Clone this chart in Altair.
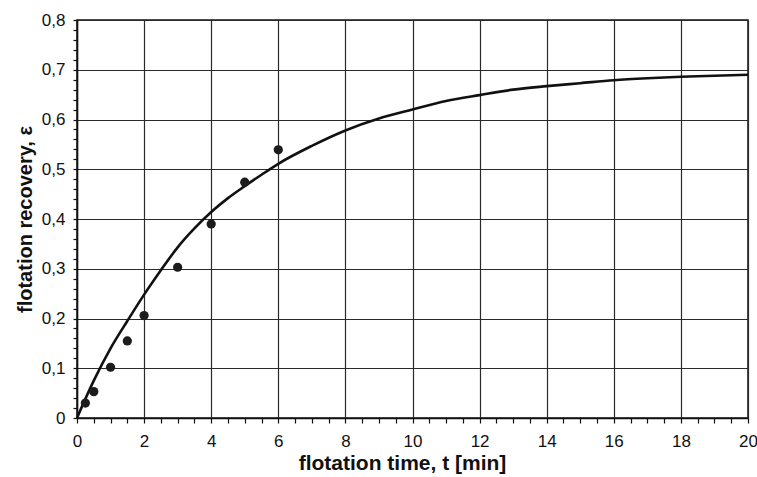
import altair as alt
import pandas as pd

# Measured flotation recovery at each sampling time
time_points = [0.25, 0.5, 1, 1.5, 2, 3, 4, 5, 6]
recovery_points = [0.030, 0.053, 0.102, 0.155, 0.206, 0.303, 0.390, 0.474, 0.539]

# Kinetic curve traced through the time range
curve_time = [0, 0.5, 1, 1.5, 2, 2.5, 3, 3.5, 4, 4.5, 5, 5.5, 6, 7, 8, 9,
              10, 11, 12, 13, 14, 15, 16, 17, 18, 19, 20]
curve_recovery = [0, 0.075, 0.140, 0.195, 0.248, 0.297, 0.343, 0.381, 0.414,
                  0.442, 0.466, 0.489, 0.511, 0.547, 0.578, 0.602, 0.620,
                  0.637, 0.649, 0.660, 0.667, 0.673, 0.679, 0.683, 0.686,
                  0.688, 0.690]

# Axis tick positions (major + minor)
x_ticks = [i * 0.5 for i in range(41)]
y_ticks = [round(i * 0.02, 2) for i in range(41)]

points = pd.DataFrame({"t": time_points, "eps": recovery_points})
curve = pd.DataFrame({"t": curve_time, "eps": curve_recovery})

FONT = "Liberation Sans"
x_major = "datum.value % 2 == 0"
y_major = "abs(datum.value * 10 - round(datum.value * 10)) < 0.001"

x_scale = alt.Scale(domain=[0, 20], nice=False, zero=False)
y_scale = alt.Scale(domain=[0, 0.8], nice=False, zero=False)

x_axis = alt.Axis(
    title="flotation time, t  [min]",
    values=x_ticks,
    tickCount=200,
    labelExpr=f"{x_major} ? format(datum.value, 'd') : ''",
    grid=True,
    gridColor="#2a2a2a",
    gridWidth=1.2,
    gridOpacity={"condition": {"test": x_major, "value": 1}, "value": 0},
    tickColor="#111111",
    tickSize=5,
    tickWidth=1.2,
    domainColor="#111111",
    domainWidth=1.5,
    labelFont=FONT,
    labelFontSize=17,
    labelColor="#111111",
    labelPadding=10,
    labelFlush=False,
    labelOverlap=False,
    titleFont=FONT,
    titleFontSize=21,
    titleFontWeight="bold",
    titleColor="#111111",
    titlePadding=3,
    titleX=325,
)

y_axis = alt.Axis(
    title="flotation recovery, ε",
    values=y_ticks,
    tickCount=200,
    labelExpr=(f"{y_major} ? (datum.value == 0 ? '0' : "
               "replace(format(datum.value, '.1f'), '.', ',')) : ''"),
    grid=True,
    gridColor="#2a2a2a",
    gridWidth=1.2,
    gridOpacity={"condition": {"test": y_major, "value": 1}, "value": 0},
    tickColor="#111111",
    tickSize=4,
    tickWidth=1.2,
    domainColor="#111111",
    domainWidth=1.5,
    labelFont=FONT,
    labelFontSize=17,
    labelColor="#111111",
    labelPadding=8,
    labelFlush=False,
    labelOverlap=False,
    titleFont=FONT,
    titleFontSize=20,
    titleFontWeight="bold",
    titleColor="#111111",
    titlePadding=6,
)

line = alt.Chart(curve).mark_line(
    color="#111111", strokeWidth=2.6, interpolate="monotone"
).encode(
    x=alt.X("t:Q", scale=x_scale, axis=x_axis),
    y=alt.Y("eps:Q", scale=y_scale, axis=y_axis),
)

dots = alt.Chart(points).mark_circle(
    color="#1c1c1c", opacity=1, size=85
).encode(
    x=alt.X("t:Q", scale=x_scale),
    y=alt.Y("eps:Q", scale=y_scale),
)

chart = alt.layer(line, dots).properties(
    width=671,
    height=398,
    autosize=alt.AutoSizeParams(type="none"),
    padding={"left": 77, "top": 20, "right": 9, "bottom": 59},
    background="white",
).configure_view(
    stroke="#111111",
    strokeWidth=1.5,
)

chart.save("out.html", embed_options={"renderer": "svg", "actions": False})
